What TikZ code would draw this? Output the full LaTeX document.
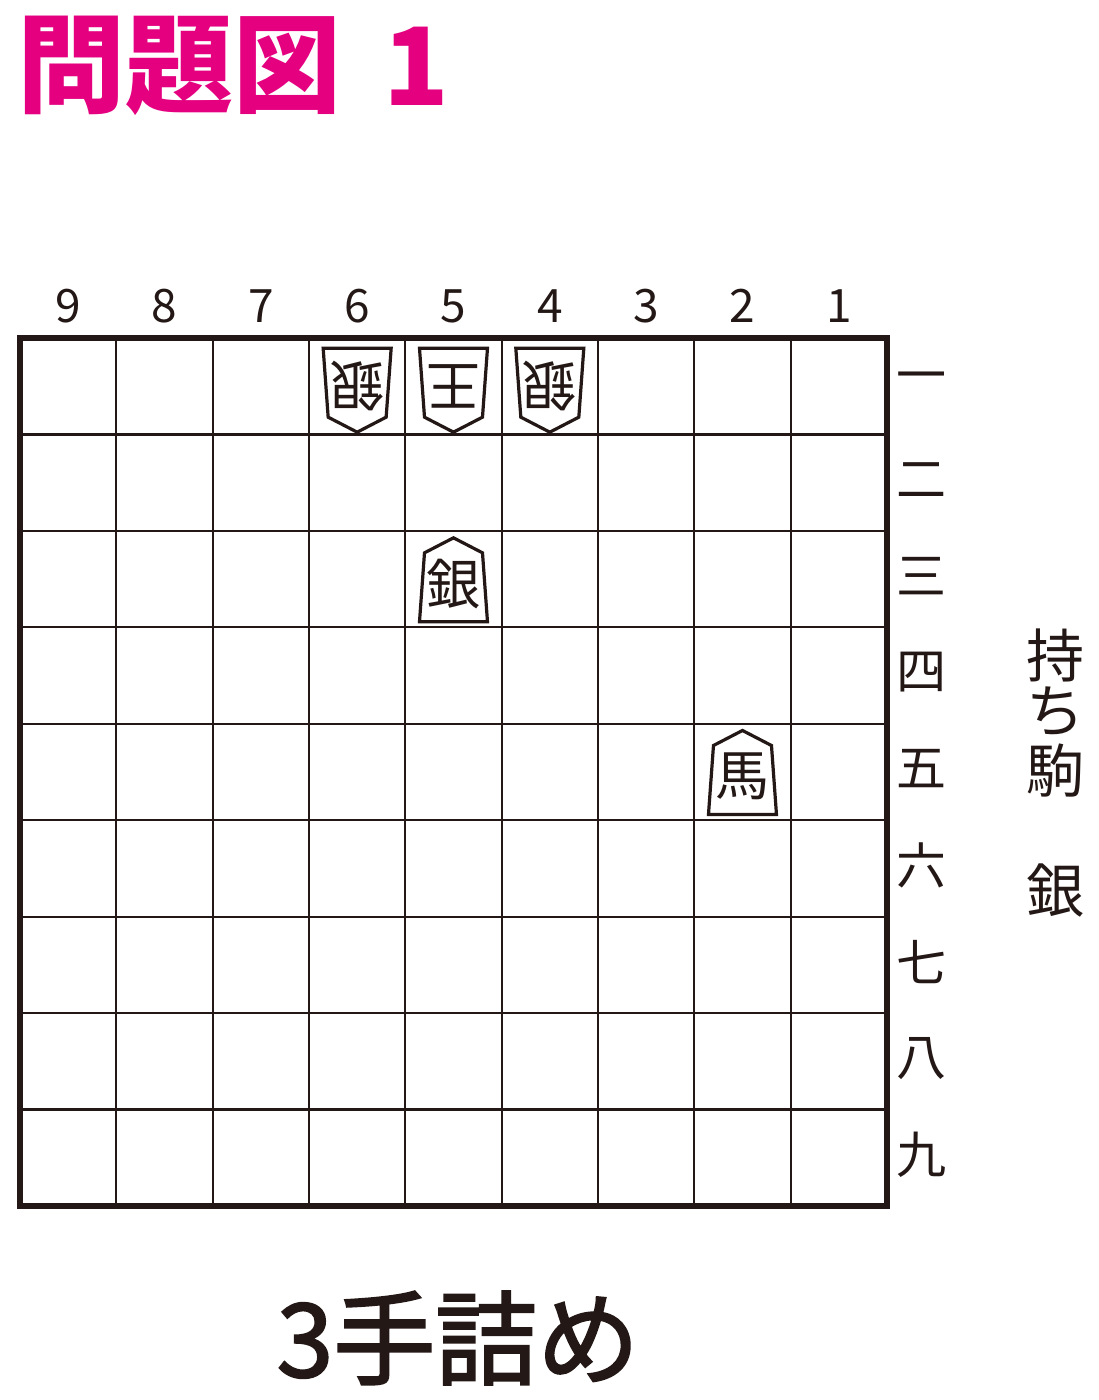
\documentclass[tikz,border=0pt]{standalone}
\usepackage{fontspec}
\newfontfamily\jp{Noto Sans CJK JP}
\newfontfamily\jpmed[FakeBold=2]{Noto Sans CJK JP}
\definecolor{ink}{RGB}{35,24,21}
\definecolor{mag}{RGB}{228,0,127}
\newcommand\sentepiece[4]{%
  \pgfmathsetmacro\pcx{20+(9-#2+0.5)*96.33}%
  \pgfmathsetmacro\pcy{338+(#3-0.5)*96.33+1}%
  \begin{scope}[shift={(\pcx,\pcy)}]
    \draw[piece] (0,-42) -- (29,-27) -- (34,42) -- (-34,42) -- (-29,-27) -- cycle;
    \node[piecetext] (#1) at (0,4) {#4};
  \end{scope}}
\newcommand\gotepiece[4]{%
  \pgfmathsetmacro\pcx{20+(9-#2+0.5)*96.33}%
  \pgfmathsetmacro\pcy{338+(#3-0.5)*96.33+4}%
  \begin{scope}[shift={(\pcx,\pcy)},rotate=180]
    \draw[piece] (0,-42) -- (29,-27) -- (34,42) -- (-34,42) -- (-29,-27) -- cycle;
    \node[piecetext,rotate=180] (#1) at (0,4) {#4};
  \end{scope}}
\begin{document}
\begin{tikzpicture}[x=1pt,y=-1pt,
  gridline/.style={draw=ink,line width=2.2pt},
  border/.style={draw=ink,line width=6pt},
  piece/.style={draw=ink,line width=3.2pt,fill=white,line join=miter},
  piecetext/.style={inner sep=0pt,text=ink,font=\jp\fontsize{54}{54}\selectfont},
  collabel/.style={inner sep=0pt,text=ink,font=\jp\fontsize{46}{46}\selectfont},
  rowlabel/.style={inner sep=0pt,text=ink,font=\jp\fontsize{50}{50}\selectfont},
  handtext/.style={inner sep=0pt,text=ink,font=\jp\fontsize{58}{58}\selectfont}]
\useasboundingbox (0,0) rectangle (1099,1400);
\fill[white] (0,0) rectangle (1099,1400);
% title
\node[inner sep=0pt,text=mag,font=\jp\bfseries\fontsize{108}{108}\selectfont,anchor=center] (title) at (179,66) {問題図};
\node[inner sep=0pt,text=mag,font=\jp\bfseries\fontsize{108}{108}\selectfont] (titlenum) at (416,66) {1};
% grid
\foreach \i in {1,...,8}{
  \draw[gridline] ({20+\i*96.33},338) -- ({20+\i*96.33},1206);
  \draw[gridline] (20,{338+\i*96.44}) -- (887,{338+\i*96.44});
}
\draw[border] (20,338) rectangle (887,1206);
% column labels
\foreach \c in {1,...,9}{
  \node[collabel] (col\c) at ({20+(9-\c+0.5)*96.33},306) {\c};
}
% row labels
\foreach \r/\k in {1/一,2/二,3/三,4/四,5/五,6/六,7/七,8/八,9/九}{
  \node[rowlabel] (row\r) at (921,{338+(\r-0.5)*96.44-3}) {\k};
}
% pieces
\gotepiece{g64}{6}{1}{銀}
\gotepiece{g51}{5}{1}{王}
\gotepiece{g41}{4}{1}{銀}
\sentepiece{s53}{5}{3}{銀}
\sentepiece{s25}{2}{5}{馬}
% pieces in hand
\node[handtext] (hand1) at (1055,655) {持};
\node[handtext] (hand2) at (1055,712) {ち};
\node[handtext] (hand3) at (1055,771) {駒};
\node[handtext] (hand4) at (1055,891) {銀};
% caption
\node[inner sep=0pt,text=ink,font=\jpmed\fontsize{102}{102}\selectfont] (caption) at (458,1338) {3手詰め};
\end{tikzpicture}
\end{document}
